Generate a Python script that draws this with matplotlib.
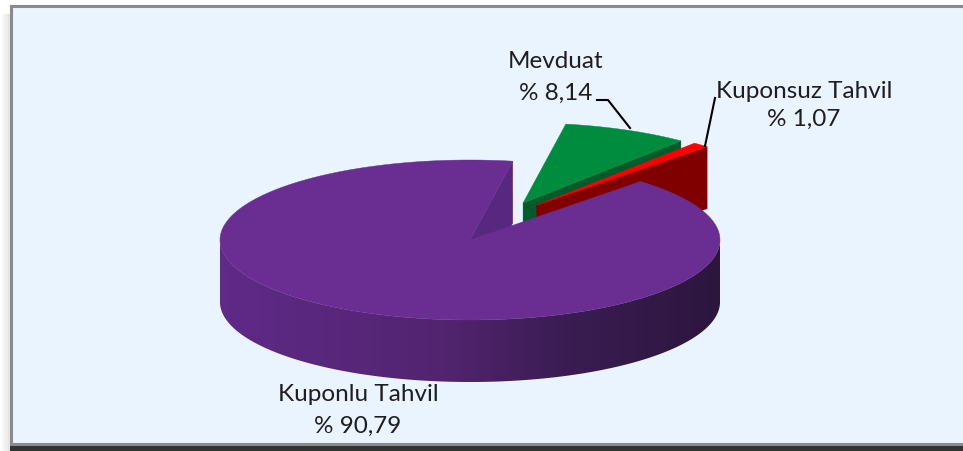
import numpy as np
import matplotlib
matplotlib.use("Agg")
import matplotlib.pyplot as plt
from matplotlib.patches import Polygon, Rectangle
from matplotlib.colors import LinearSegmentedColormap

# ---------------- data ----------------
categories = ["Kuponsuz Tahvil", "Mevduat", "Kuponlu Tahvil"]
values = [1.07, 8.14, 90.79]
value_labels = ["% 1,07", "% 8,14", "% 90,79"]

# ---------------- layout / style ----------------
W, H = 963, 451
fig = plt.figure(figsize=(W / 100, H / 100), dpi=100)
fig.patch.set_facecolor("white")
ax = fig.add_axes([0, 0, 1, 1])
ax.set_xlim(0, W)
ax.set_ylim(H, 0)
ax.axis("off")

# frame
for i, al in enumerate([0.05, 0.08, 0.12, 0.16]):
    ax.add_patch(Rectangle((2 + i * 2, 14), 2, H, color="#606060", alpha=al, lw=0, zorder=0))
ax.add_patch(Rectangle((10.5, 6), 1000, 438, facecolor="#EAF4FF", edgecolor="#8A8A8A",
                       lw=2.2, zorder=1))
ax.add_patch(Rectangle((10, 446), 1000, 10, facecolor="#333333", edgecolor="none", zorder=1))

cx, cy, a, b, depth = 470, 240, 250, 80, 62
start = 47.0
explode = [0.51, 0.51, 0.0]
explode_dir = [58.5, 65.4, 0.0]
top_colors = ["#FF0000", "#008C3E", "#6A2D92"]
face_colors = ["#800000", "#005C2A", "#58277F"]
wall_cmaps = [
    LinearSegmentedColormap.from_list("r", ["#8A0000", "#600000"]),
    LinearSegmentedColormap.from_list("g", ["#006A30", "#004A20"]),
    LinearSegmentedColormap.from_list("p", [(0, "#5F2A88"), (0.45, "#52246F"),
                                            (0.7, "#3A1C52"), (1, "#2C163E")]),
]

fr = np.array(values) / np.sum(values) * 360.0
ends = start + np.cumsum(fr)
starts = ends - fr


def rim(ox, oy, th, z=0.0):
    t = np.radians(th)
    return ox + a * np.cos(t), oy - b * np.sin(t) + z


def draw_slice(i, zbase):
    e = explode[i]
    d = np.radians(explode_dir[i])
    ox = cx + e * a * np.cos(d)
    oy = cy - e * b * np.sin(d)
    s, en = starts[i], ends[i]
    z = zbase
    # cut faces
    for th, vis in ((s, np.cos(np.radians(s)) > 0), (en, np.cos(np.radians(en)) < 0)):
        if vis:
            x1, y1 = rim(ox, oy, th)
            poly = [(ox, oy), (x1, y1), (x1, y1 + depth), (ox, oy + depth)]
            ax.add_patch(Polygon(poly, closed=True, facecolor=face_colors[i],
                                 edgecolor=face_colors[i], lw=0.3, zorder=z))
    # outer wall (front half only), gradient clipped to wall shape
    for k0 in (180.0, 540.0):
        lo, hi = max(s, k0), min(en, k0 + 180.0)
        if hi > lo:
            ths = np.linspace(lo, hi, 400)
            topc = [rim(ox, oy, t) for t in ths]
            botc = [rim(ox, oy, t, depth) for t in ths[::-1]]
            wall = Polygon(topc + botc, closed=True, facecolor="none", edgecolor="none")
            ax.add_patch(wall)
            grad = np.linspace(0, 1, 256).reshape(1, -1)
            im = ax.imshow(grad, cmap=wall_cmaps[i], aspect="auto",
                           extent=[ox - a, ox + a, oy + b + depth + 2, oy - b],
                           zorder=z + 0.1, interpolation="bilinear")
            im.set_clip_path(wall)
    # top
    ths = np.linspace(s, en, int((en - s) * 2) + 2)
    pts = [(ox, oy)] + [rim(ox, oy, t) for t in ths]
    ax.add_patch(Polygon(pts, closed=True, facecolor=top_colors[i],
                         edgecolor=top_colors[i], lw=0.3, zorder=z + 0.2))


# back-to-front order
draw_slice(1, 3)
draw_slice(0, 4)
draw_slice(2, 5)
ax.set_xlim(0, W)
ax.set_ylim(H, 0)

# labels
font = dict(family=["Lato", "DejaVu Sans"], fontsize=17.5, color="#1E1E1E", ha="center",
            va="baseline", zorder=10)
label_pos = [(804, 98, 126), (556, 68, 100), (358, 401, 433)]
for (x, y1, y2), cat, vl in zip(label_pos, categories, value_labels):
    ax.text(x, y1, cat, **font)
    ax.text(x, y2, vl, **font)

# leader lines
ax.plot([597, 608, 630], [100, 100, 128], color="black", lw=1.5, zorder=9)
ax.plot([715, 705], [98, 146], color="black", lw=1.5, zorder=9)

fig.savefig("out.png", dpi=100)
